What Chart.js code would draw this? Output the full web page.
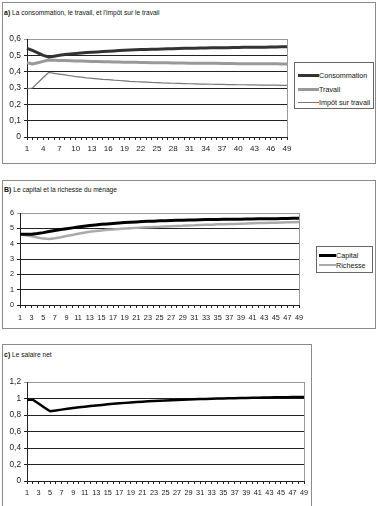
<!DOCTYPE html>
<html><head><meta charset="utf-8">
<script src="https://cdn.jsdelivr.net/npm/chart.js@4/dist/chart.umd.min.js"></script>
<style>
body{margin:0;background:#fff;font-family:"Liberation Sans",Arial,sans-serif;width:377px;height:506px;overflow:hidden;position:relative}
.box{position:absolute;border:1px solid #8a8a8a;box-sizing:border-box;background:#fff}
.title{position:absolute;font-size:6.6px;color:#111;white-space:nowrap}
.title b{font-size:7px}
canvas{position:absolute}
.leg{position:absolute;border:1px solid #666;background:#fff;box-sizing:border-box}
.row{position:absolute;font-size:7.2px;color:#111;white-space:nowrap}
.sw{position:absolute}
</style></head><body>
<div class="box" style="left:2px;top:2px;width:374px;height:162px"></div>
<div class="box" style="left:2px;top:180px;width:374px;height:149px"></div>
<div class="box" style="left:2px;top:344px;width:310px;height:170px"></div>
<div class="title" style="left:4px;top:9px"><b>a)</b> La consommation, le travail, et l'impôt sur le travail</div>
<div class="title" style="left:4px;top:186px"><b>B)</b> Le capital et la richesse du ménage</div>
<div class="title" style="left:4px;top:351px"><b>c)</b> Le salaire net</div>
<canvas id="ca" width="377" height="165" style="left:0;top:0"></canvas>
<canvas id="cb" width="377" height="150" style="left:0;top:170px"></canvas>
<canvas id="cc" width="377" height="160" style="left:0;top:340px"></canvas>
<div class="leg" style="left:294px;top:62px;width:80px;height:47px">
 <div class="sw" style="left:3px;top:11px;width:21px;height:3px;background:#333"></div><div class="row" style="left:24px;top:8px">Consommation</div>
 <div class="sw" style="left:3px;top:25px;width:21px;height:3px;background:#999"></div><div class="row" style="left:24px;top:22px">Travail</div>
 <div class="sw" style="left:3px;top:39px;width:21px;height:1px;background:#777"></div><div class="row" style="left:24px;top:35px">Impôt sur travail</div>
</div>
<div class="leg" style="left:316px;top:246px;width:57px;height:27px">
 <div class="sw" style="left:2px;top:7px;width:17px;height:3px;background:#000"></div><div class="row" style="left:19px;top:4px">Capital</div>
 <div class="sw" style="left:2px;top:17px;width:17px;height:2px;background:#aaa"></div><div class="row" style="left:19px;top:14px">Richesse</div>
</div>
<script>
const categories = ['1','2','3','4','5','6','7','8','9','10','11','12','13','14','15','16','17','18','19','20','21','22','23','24','25','26','27','28','29','30','31','32','33','34','35','36','37','38','39','40','41','42','43','44','45','46','47','48','49'];

const consommation = [0.543,0.530,0.515,0.500,0.490,0.495,0.500,0.505,0.508,0.511,0.514,0.517,0.519,0.521,0.523,0.525,0.527,0.529,0.531,0.533,0.534,0.535,0.536,0.537,0.538,0.539,0.540,0.541,0.542,0.543,0.543,0.544,0.545,0.545,0.546,0.546,0.547,0.547,0.548,0.548,0.549,0.549,0.550,0.550,0.550,0.551,0.551,0.552,0.552];
const travail = [0.455,0.447,0.455,0.463,0.471,0.470,0.469,0.468,0.467,0.466,0.465,0.464,0.463,0.462,0.461,0.460,0.459,0.459,0.458,0.457,0.457,0.456,0.456,0.455,0.455,0.454,0.454,0.453,0.453,0.453,0.452,0.452,0.452,0.451,0.451,0.451,0.450,0.450,0.450,0.449,0.449,0.449,0.449,0.448,0.448,0.448,0.448,0.447,0.447];
const impot = [0.295,0.300,0.332,0.364,0.395,0.390,0.385,0.380,0.375,0.370,0.366,0.362,0.359,0.356,0.353,0.351,0.348,0.346,0.344,0.341,0.339,0.338,0.336,0.334,0.333,0.331,0.330,0.329,0.328,0.327,0.326,0.325,0.324,0.324,0.323,0.322,0.322,0.321,0.321,0.320,0.320,0.319,0.319,0.318,0.318,0.317,0.317,0.316,0.316];

const capital = [4.61,4.61,4.62,4.66,4.72,4.79,4.86,4.93,4.98,5.03,5.08,5.13,5.18,5.22,5.26,5.29,5.32,5.35,5.38,5.40,5.42,5.44,5.46,5.47,5.49,5.50,5.51,5.52,5.53,5.54,5.55,5.56,5.57,5.57,5.58,5.59,5.59,5.60,5.60,5.61,5.61,5.62,5.62,5.63,5.63,5.64,5.64,5.65,5.65];
const richesse = [4.61,4.55,4.48,4.40,4.33,4.30,4.35,4.42,4.50,4.57,4.64,4.71,4.77,4.82,4.86,4.90,4.93,4.96,4.99,5.01,5.03,5.05,5.07,5.09,5.10,5.12,5.14,5.16,5.17,5.19,5.20,5.22,5.23,5.24,5.26,5.27,5.28,5.29,5.30,5.31,5.33,5.34,5.35,5.36,5.37,5.38,5.39,5.40,5.42];

const salaire = [0.985,0.985,0.940,0.890,0.845,0.855,0.865,0.875,0.885,0.893,0.900,0.908,0.915,0.922,0.929,0.935,0.941,0.947,0.952,0.957,0.962,0.966,0.970,0.974,0.977,0.980,0.983,0.986,0.989,0.991,0.993,0.995,0.997,0.999,1.001,1.003,1.004,1.006,1.007,1.009,1.010,1.011,1.013,1.014,1.015,1.016,1.017,1.018,1.019];

const yTicksA = ['0','0,1','0,2','0,3','0,4','0,5','0,6'];
const yTicksB = ['0','1','2','3','4','5','6'];
const yTicksC = ['0','0,2','0,4','0,6','0,8','1','1,2'];

function frame(){
  return {id:'frame', afterDatasetsDraw(chart){
    const a=chart.chartArea, c=chart.ctx;
    c.save(); c.strokeStyle='#999'; c.lineWidth=1;
    c.beginPath(); c.moveTo(a.right+0.5,a.top); c.lineTo(a.right+0.5,a.bottom); c.stroke();
    c.restore();
  }};
}

function make(id, datasets, o){
  new Chart(document.getElementById(id), {
    type:'line',
    data:{labels:categories, datasets:datasets},
    plugins:[frame()],
    options:{
      responsive:false, animation:false, devicePixelRatio:1,
      layout:{padding:{left:0,top:o.top,right:o.right,bottom:0}},
      plugins:{legend:{display:false}, tooltip:{enabled:false}},
      elements:{point:{radius:0}, line:{tension:0}},
      scales:{
        x:{
          offset:false,
          grid:{drawOnChartArea:false, drawTicks:true, tickLength:3, color:'#222'},
          border:{color:'#222', width:1},
          ticks:{autoSkip:false, maxRotation:0, padding:o.xpad, color:'#222',
            font:{family:'Liberation Sans', size:o.xfont},
            callback:(v,i)=> (i % o.every === 0) ? categories[i] : ''},
          afterFit:(s)=>{ s.height = o.xh; }
        },
        y:{
          min:o.min, max:o.max,
          grid:{color:(ctx)=> ctx.tick && ctx.tick.value===o.max ? '#999' : '#222', lineWidth:1, tickLength:3, drawTicks:true},
          border:{color:'#222', width:1},
          ticks:{stepSize:o.step, padding:3, color:'#222',
            font:{family:'Liberation Sans', size:o.yfont},
            callback:(v,i)=> o.yt[i]},
          afterFit:(s)=>{ s.width = o.left; }
        }
      }
    }
  });
}

make('ca', [
  {label:'Consommation', data:consommation, borderColor:'#333', borderWidth:3},
  {label:'Travail', data:travail, borderColor:'#999', borderWidth:3},
  {label:'Impôt sur travail', data:impot, borderColor:'#777', borderWidth:1.2}
], {top:39, right:90, left:27, xh:28, xpad:4, min:0, max:0.6, step:0.1, yt:yTicksA, every:3, xfont:8, yfont:8.5});

make('cb', [
  {label:'Capital', data:capital, borderColor:'#000', borderWidth:3},
  {label:'Richesse', data:richesse, borderColor:'#aaa', borderWidth:2.5}
], {top:43, right:78, left:20, xh:15, xpad:6, min:0, max:6, step:1, yt:yTicksB, every:2, xfont:7.3, yfont:7.3});

make('cc', [
  {label:'Salaire net', data:salaire, borderColor:'#000', borderWidth:2.5}
], {top:42, right:73, left:27, xh:19, xpad:5, min:0, max:1.2, step:0.2, yt:yTicksC, every:2, xfont:7.3, yfont:8.3});
</script>
</body></html>
